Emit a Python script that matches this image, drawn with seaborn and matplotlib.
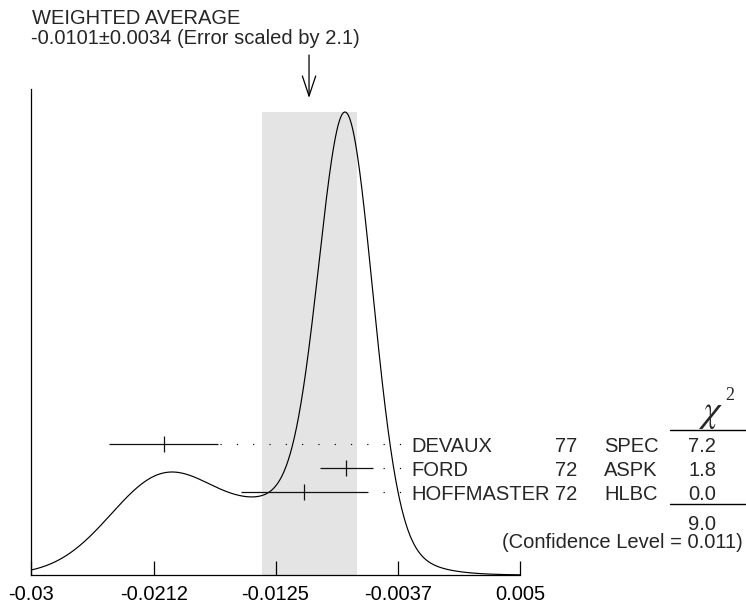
import numpy as np
import pandas as pd
import matplotlib
matplotlib.use("Agg")
import matplotlib.pyplot as plt
import seaborn as sns
from matplotlib.transforms import Affine2D, blended_transform_factory

# ---------------- data ----------------
authors = ["DEVAUX", "FORD", "HOFFMASTER"]
years = ["77", "72", "72"]
techniques = ["SPEC", "ASPK", "HLBC"]
values = [-0.0205, -0.00745, -0.01048]
errors = [0.0039, 0.0019, 0.0045]
chi2_values = ["7.2", "1.8", "0.0"]
chi2_total = "9.0"
confidence_level = "0.011"
avg_value = -0.0101
avg_error = 0.0034
error_scale = "2.1"
tick_values = [-0.03, -0.0212, -0.0125, -0.0037, 0.005]
tick_labels = ["-0.03", "-0.0212", "-0.0125", "-0.0037", "0.005"]
x_min, x_max = -0.03, 0.005

# ---------------- ideogram (sum of gaussians, area ~ 1/sigma) ----------------
xg = np.linspace(x_min, x_max, 1200)
yg = np.zeros_like(xg)
for v, s in zip(values, errors):
    yg += (1.0 / s**2) * np.exp(-0.5 * ((xg - v) / s) ** 2)
yg = yg / yg.max()
curve = pd.DataFrame({"x": xg, "y": yg})

# ---------------- figure ----------------
sns.set_theme(style="white")
plt.rcParams["font.family"] = ["Liberation Sans", "DejaVu Sans"]
W, H = 746, 605
fig = plt.figure(figsize=(W / 100, H / 100), dpi=100)
PX = Affine2D().scale(1 / W, -1 / H).translate(0, 1) + fig.transFigure

ax_left, ax_right, ax_top, ax_bottom = 31, 520, 89, 575
peak_px = 112
ax = fig.add_axes([ax_left / W, (H - ax_bottom) / H,
                   (ax_right - ax_left) / W, (ax_bottom - ax_top) / H])
ax.set_xlim(x_min, x_max)
ax.set_ylim(0, (ax_bottom - ax_top) / (ax_bottom - peak_px))

def py2data(py):
    return (ax_bottom - py) / (ax_bottom - peak_px)

# shaded band of weighted average
ax.axvspan(avg_value - avg_error, avg_value + avg_error, ymin=0,
           ymax=py2data(peak_px) / ax.get_ylim()[1], color="#e4e4e4", lw=0, zorder=0)

sns.lineplot(data=curve, x="x", y="y", ax=ax, color="black", lw=0.85, zorder=3)
ax.set_xlabel("")
ax.set_ylabel("")

# spines / ticks
for sp in ["top", "right"]:
    ax.spines[sp].set_visible(False)
for sp in ["left", "bottom"]:
    ax.spines[sp].set_color("black")
    ax.spines[sp].set_linewidth(0.9)
ax.set_yticks([])
ax.set_xticks(tick_values)
ax.set_xticklabels(tick_labels)
fs = 14.5
ax.tick_params(axis="x", direction="in", length=10, width=0.9, color="black",
               pad=7.5, labelsize=fs, labelcolor="black", bottom=True)
for lbl in ax.get_xticklabels():
    lbl.set_clip_on(False)

# measurements
row_px = [444, 468, 492]
label_px = 400
label_x_data = x_min + (label_px - ax_left) / (ax_right - ax_left) * (x_max - x_min)
for v, s, rp in zip(values, errors, row_px):
    yy = py2data(rp)
    ax.plot([v - s, v + s], [yy, yy], color="#111111", lw=0.9, zorder=4, solid_capstyle="butt")
    ax.plot([v], [yy], marker="|", ms=12, mew=0.9, color="#111111", zorder=4)
    ax.plot([label_x_data, v + s], [yy, yy], color="black", lw=1.0,
            linestyle=(0, (0.05, 11.69)), dash_capstyle="round", zorder=4)

for a, yr, t, c, rp in zip(authors, years, techniques, chi2_values, row_px):
    fig.text(411, rp, a, transform=PX, fontsize=fs, ha="left", va="center_baseline")
    fig.text(577, rp, yr, transform=PX, fontsize=fs, ha="right", va="center_baseline")
    fig.text(604, rp, t, transform=PX, fontsize=fs, ha="left", va="center_baseline")
    fig.text(702, rp, c, transform=PX, fontsize=fs, ha="center", va="center_baseline")

# chi2 header and lines
fig.text(710, 413, r"$\chi$", transform=PX, fontsize=27, math_fontfamily="stix",
         ha="center", va="center")
fig.text(730, 396, "2", transform=PX, fontsize=13, family="Liberation Serif",
         ha="center", va="center")
for ly in [430, 504]:
    fig.add_artist(plt.Line2D([670, 746], [ly, ly], transform=PX, color="black", lw=1.0))
fig.text(702, 522, chi2_total, transform=PX, fontsize=fs, ha="center", va="center_baseline")
fig.text(743, 541, f"(Confidence Level = {confidence_level})", transform=PX,
         fontsize=fs, ha="right", va="center_baseline")

# title text
fig.text(32, 17, "WEIGHTED AVERAGE", transform=PX, fontsize=fs, ha="left", va="center_baseline")
fig.text(31, 36, f"{avg_value:.4f}±{avg_error:.4f} (Error scaled by {error_scale})",
         transform=PX, fontsize=fs, ha="left", va="center_baseline")

# arrow
arr_tr = blended_transform_factory(ax.transData, PX)
ax.annotate("", xy=(avg_value, 98), xycoords=arr_tr, xytext=(avg_value, 55), textcoords=arr_tr,
            arrowprops=dict(arrowstyle="->,head_length=1.2,head_width=0.4", color="black",
                            lw=0.9, shrinkA=0, shrinkB=0), annotation_clip=False)

fig.savefig("out.png", dpi=100, facecolor="white")
